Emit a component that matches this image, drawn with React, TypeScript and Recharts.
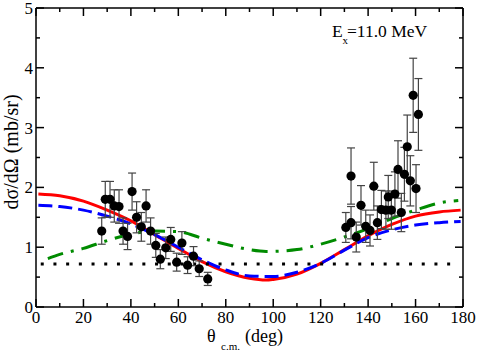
import React from 'react';
import { ComposedChart, Line, Scatter, XAxis, YAxis, ErrorBar } from 'recharts';

// Experimental data (theta c.m. in deg, dσ/dΩ in mb/sr, error)
const thetaExp = [27.7, 29.2, 31.2, 33.0, 35.0, 36.7, 38.6, 40.5, 42.4, 44.4, 46.4, 48.3, 50.5, 52.4, 54.7, 56.8, 59.3, 61.5, 63.9, 66.4, 68.8, 72.4,
  130.6, 132.8, 132.8, 135.0, 137.0, 139.0, 140.8, 142.4, 143.9, 145.6, 147.5, 148.5, 149.8, 151.3, 152.6, 154.0, 155.3, 156.5, 157.8, 159.0, 160.2, 161.2];
const sigmaExp = [1.27, 1.80, 1.80, 1.69, 1.68, 1.27, 1.18, 1.93, 1.50, 1.34, 1.69, 1.27, 1.03, 0.80, 0.99, 1.13, 0.75, 1.07, 0.70, 0.85, 0.64, 0.47,
  1.33, 1.41, 2.19, 1.17, 1.70, 1.35, 1.28, 2.02, 1.41, 1.63, 1.62, 1.84, 1.62, 1.89, 2.30, 1.58, 2.22, 2.68, 2.11, 3.54, 1.98, 3.22];
const errExp = [0.22, 0.30, 0.30, 0.27, 0.28, 0.22, 0.22, 0.31, 0.26, 0.24, 0.27, 0.22, 0.20, 0.16, 0.18, 0.20, 0.15, 0.19, 0.14, 0.16, 0.13, 0.11,
  0.25, 0.27, 0.47, 0.25, 0.33, 0.27, 0.26, 0.40, 0.28, 0.32, 0.32, 0.36, 0.32, 0.37, 0.48, 0.32, 0.45, 0.53, 0.42, 0.62, 0.40, 0.60];

// Red solid curve
const redTheta = [1, 10, 20, 30, 40, 50, 60, 70, 80, 90, 97, 100, 110, 120, 130, 140, 150, 160, 170, 179];
const redSigma = [1.89, 1.86, 1.77, 1.62, 1.44, 1.21, 0.98, 0.76, 0.59, 0.48, 0.45, 0.46, 0.55, 0.73, 0.96, 1.19, 1.38, 1.52, 1.59, 1.62];

// Blue dashed curve
const blueTheta = [1, 10, 20, 30, 40, 50, 60, 70, 80, 90, 100, 110, 120, 130, 140, 150, 160, 170, 179];
const blueSigma = [1.70, 1.68, 1.62, 1.52, 1.39, 1.21, 1.00, 0.79, 0.62, 0.52, 0.51, 0.58, 0.73, 0.95, 1.16, 1.29, 1.37, 1.41, 1.43];

// Green dash-dot curve
const greenTheta = [5, 10, 20, 30, 40, 50, 60, 70, 80, 90, 97, 105, 110, 120, 130, 140, 150, 160, 170, 178];
const greenSigma = [0.81, 0.88, 0.98, 1.11, 1.22, 1.27, 1.26, 1.15, 1.05, 0.96, 0.93, 0.94, 0.96, 1.05, 1.17, 1.31, 1.48, 1.62, 1.74, 1.78];

// Black dotted line
const dotTheta = [2, 175];
const dotSigma = [0.72, 0.72];

const xTicks = [0, 10, 20, 30, 40, 50, 60, 70, 80, 90, 100, 110, 120, 130, 140, 150, 160, 170, 180];
const xTickLabels = ['0', '20', '40', '60', '80', '100', '120', '140', '160', '180'];
const yTicks = [0, 0.5, 1, 1.5, 2, 2.5, 3, 3.5, 4, 4.5, 5];
const yTickLabels = ['0', '1', '2', '3', '4', '5'];

const FONT = 'Liberation Serif, Times New Roman, serif';

const toData = (xs: number[], ys: number[]) => xs.map((x, i) => ({ x, y: ys[i] }));
const expData = thetaExp.map((x, i) => ({ x, y: sigmaExp[i], err: errExp[i] }));
const redData = toData(redTheta, redSigma);
const blueData = toData(blueTheta, blueSigma);
const greenData = toData(greenTheta, greenSigma);
const dotData = toData(dotTheta, dotSigma);

const BottomTick = (props: any) => {
  const { x, y, payload } = props;
  const v = payload.value;
  const label = xTickLabels.includes(String(v)) ? String(v) : null;
  return (
    <g>
      <line x1={x} x2={x} y1={y} y2={y - (label ? 8 : 4)} stroke="#000" strokeWidth={1.5} />
      {label && (
        <text x={x} y={y + 16} textAnchor="middle" fontSize={17} fontFamily={FONT} fill="#000">{label}</text>
      )}
    </g>
  );
};

const TopTick = (props: any) => {
  const { x, y, payload } = props;
  const major = xTickLabels.includes(String(payload.value));
  return <line x1={x} x2={x} y1={y} y2={y + (major ? 8 : 4)} stroke="#000" strokeWidth={1.5} />;
};

const LeftTick = (props: any) => {
  const { x, y, payload } = props;
  const v = payload.value;
  const label = yTickLabels.includes(String(v)) ? String(v) : null;
  return (
    <g>
      <line x1={x} x2={x + (label ? 8 : 4)} y1={y} y2={y} stroke="#000" strokeWidth={1.5} />
      {label && (
        <text x={x - 3} y={y + 6} textAnchor="end" fontSize={17} fontFamily={FONT} fill="#000">{label}</text>
      )}
    </g>
  );
};

const RightTick = (props: any) => {
  const { x, y, payload } = props;
  const major = yTickLabels.includes(String(payload.value));
  return <line x1={x} x2={x - (major ? 8 : 4)} y1={y} y2={y} stroke="#000" strokeWidth={1.5} />;
};

const Dot = (p: any) => <circle cx={p.cx} cy={p.cy} r={4.6} fill="#000" />;

export default function App() {
  return (
    <div style={{ position: 'absolute', left: 0, top: 0, width: 478, height: 352, background: '#fff' }}>
      <ComposedChart width={478} height={352} margin={{ top: 0, right: 0, bottom: 0, left: 0 }}>
        <XAxis xAxisId={0} dataKey="x" type="number" domain={[0, 180]} ticks={xTicks} interval={0}
          height={45} tickSize={0} tickMargin={0} tickLine={false} tick={<BottomTick />}
          axisLine={{ stroke: '#000', strokeWidth: 1.5 }} allowDataOverflow />
        <XAxis xAxisId="top" orientation="top" dataKey="x" type="number" domain={[0, 180]} ticks={xTicks} interval={0}
          height={8} tickSize={0} tickMargin={0} tickLine={false} tick={<TopTick />}
          axisLine={{ stroke: '#000', strokeWidth: 1.5 }} allowDataOverflow />
        <YAxis yAxisId={0} type="number" domain={[0, 5]} ticks={yTicks} interval={0}
          width={36} tickSize={0} tickMargin={0} tickLine={false} tick={<LeftTick />}
          axisLine={{ stroke: '#000', strokeWidth: 1.5 }} allowDataOverflow />
        <YAxis yAxisId="right" orientation="right" type="number" domain={[0, 5]} ticks={yTicks} interval={0}
          width={15} tickSize={0} tickMargin={0} tickLine={false} tick={<RightTick />}
          axisLine={{ stroke: '#000', strokeWidth: 1.5 }} allowDataOverflow />
        <Line data={redData} dataKey="y" type="monotone" stroke="#ff0000" strokeWidth={3} dot={false} isAnimationActive={false} />
        <Line data={blueData} dataKey="y" type="monotone" stroke="#0000ff" strokeWidth={3} strokeDasharray="14 6" dot={false} isAnimationActive={false} />
        <Line data={greenData} dataKey="y" type="monotone" stroke="#008b00" strokeWidth={3} strokeDasharray="16 8 3 8" dot={false} isAnimationActive={false} />
        <Line data={dotData} dataKey="y" type="linear" stroke="#000" strokeWidth={3} strokeDasharray="3 9.7" dot={false} isAnimationActive={false} />
        <Scatter data={expData} dataKey="y" shape={<Dot />} isAnimationActive={false}>
          <ErrorBar dataKey="err" direction="y" width={4} stroke="#444" strokeWidth={1.2} />
        </Scatter>
        <text x={18} y={152} transform="rotate(-90 18 152)" textAnchor="middle" fontSize={20} fontFamily={FONT} fill="#000">dσ/dΩ (mb/sr)</text>
        <text fontFamily={FONT} fill="#000">
          <tspan x={207} y={342} fontSize={18}>θ</tspan>
          <tspan x={221} y={350} fontSize={11}>c.m.</tspan>
          <tspan x={245} y={342} fontSize={18}>(deg)</tspan>
        </text>
        <text fontFamily={FONT} fill="#000">
          <tspan x={332} y={37} fontSize={17.5}>E</tspan>
          <tspan x={342.5} y={44} fontSize={11}>x</tspan>
          <tspan x={347} y={37} fontSize={17.5}>=11.0 MeV</tspan>
        </text>
      </ComposedChart>
    </div>
  );
}
